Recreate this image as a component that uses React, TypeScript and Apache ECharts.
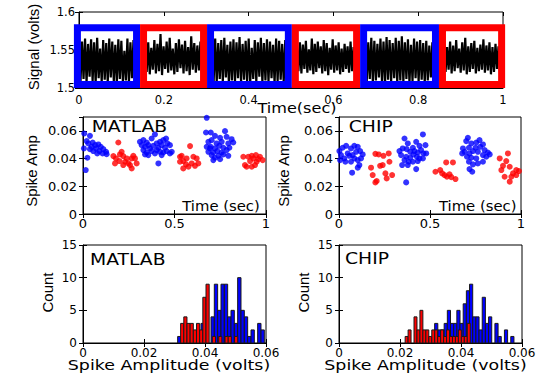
import React, { useEffect, useRef } from 'react';
import * as echarts from 'echarts';

// ---------- tick labels ----------
const signalTicksX = [0, 0.2, 0.4, 0.6, 0.8, 1];
const signalTicksY = [1.5, 1.55, 1.6];
const scatterTicksX = [0, 0.5, 1];
const scatterTicksY = [0, 0.02, 0.04, 0.06];
const scatterYMax = 0.07;
const histTicksX = [0, 0.02, 0.04, 0.06];
const histTicksY = [0, 5, 10, 15];

// ---------- top panel: segments & raw signal (volts) ----------
const segmentBounds = [-0.012, 0.144, 0.302, 0.502, 0.663, 0.849, 1.005];
const segmentTop = 1.584;
const segmentIsLarge = [true, false, true, false, true, false];

const signalSeg1 = [1.563,1.508,1.561,1.512,1.565,1.507,1.558,1.515,1.564,1.509,1.560,1.506,1.566,1.513,1.552,1.508,1.563,1.511,1.559,1.507,1.565,1.514,1.561,1.509,1.557,1.506,1.564,1.512,1.562,1.508,1.549,1.510,1.565,1.507,1.560,1.513,1.563,1.509];
const signalSeg2 = [1.556,1.521,1.560,1.518,1.553,1.524,1.563,1.519,1.558,1.522,1.571,1.517,1.555,1.525,1.561,1.520,1.566,1.523,1.552,1.518,1.559,1.521,1.564,1.526,1.557,1.519,1.562,1.522,1.554,1.517,1.568,1.524,1.559,1.520,1.556,1.523,1.561,1.519];
const signalSeg3 = [1.562,1.509,1.565,1.507,1.559,1.512,1.563,1.508,1.566,1.514,1.557,1.506,1.561,1.510,1.564,1.508,1.560,1.513,1.567,1.507,1.558,1.511,1.562,1.509,1.565,1.506,1.553,1.512,1.563,1.508,1.560,1.515,1.566,1.507,1.559,1.510,1.564,1.508,1.561,1.513,1.557,1.506,1.565,1.509,1.562,1.511,1.558,1.507,1.563,1.510];
const signalSeg4 = [1.554,1.522,1.560,1.519,1.557,1.525,1.562,1.520,1.551,1.523,1.565,1.518,1.558,1.521,1.561,1.526,1.555,1.519,1.563,1.522,1.559,1.517,1.553,1.524,1.564,1.520,1.556,1.523,1.560,1.518,1.552,1.521,1.558,1.525,1.555,1.520,1.561,1.522,1.554,1.519];
const signalSeg5 = [1.564,1.508,1.560,1.512,1.566,1.507,1.562,1.510,1.558,1.514,1.565,1.508,1.561,1.506,1.567,1.511,1.563,1.509,1.559,1.513,1.566,1.507,1.562,1.510,1.568,1.508,1.560,1.512,1.564,1.506,1.557,1.509,1.565,1.513,1.561,1.508,1.563,1.511,1.559,1.507,1.562,1.510,1.556,1.514,1.560,1.508];
const signalSeg6 = [1.558,1.521,1.554,1.524,1.561,1.519,1.556,1.522,1.563,1.526,1.552,1.520,1.560,1.523,1.566,1.518,1.555,1.521,1.559,1.525,1.562,1.519,1.553,1.522,1.557,1.524,1.564,1.520,1.556,1.523,1.560,1.518,1.554,1.521,1.558,1.525,1.555,1.520];
const signalSegments = [signalSeg1, signalSeg2, signalSeg3, signalSeg4, signalSeg5, signalSeg6];

// ---------- spike amplitudes vs time ----------
const matlabBlue = [
  [0.007,0.0581],[0.038,0.0564],[0.020,0.0526],[0.005,0.0473],[0.029,0.0509],[0.053,0.0516],[0.066,0.0497],[0.084,0.0502],[0.097,0.0485],[0.071,0.0473],[0.056,0.0454],[0.089,0.0454],[0.111,0.0468],[0.126,0.0449],[0.078,0.0437],[0.107,0.0437],[0.129,0.0432],[0.024,0.0406],[0.015,0.0317],[0.047,0.0485],[0.038,0.0468],
  [0.311,0.0521],[0.330,0.0533],[0.348,0.0516],[0.375,0.0545],[0.393,0.0574],[0.321,0.0497],[0.339,0.0485],[0.357,0.0497],[0.366,0.0473],[0.384,0.0492],[0.403,0.0509],[0.421,0.0521],[0.439,0.0533],[0.454,0.0545],[0.461,0.0509],[0.475,0.0497],[0.430,0.0497],[0.412,0.0478],[0.330,0.0461],[0.348,0.0444],[0.375,0.0454],[0.393,0.0437],[0.421,0.0449],[0.439,0.0444],[0.457,0.0454],[0.485,0.0449],[0.475,0.0437],[0.357,0.0425],[0.339,0.0430],[0.430,0.0425],[0.412,0.0365],[0.403,0.0461],[0.448,0.0478],
  [0.676,0.0694],[0.672,0.0588],[0.698,0.0588],[0.721,0.0564],[0.749,0.0550],[0.776,0.0598],[0.785,0.0557],[0.812,0.0540],[0.685,0.0521],[0.703,0.0533],[0.730,0.0509],[0.758,0.0521],[0.794,0.0509],[0.821,0.0516],[0.676,0.0485],[0.698,0.0485],[0.721,0.0473],[0.745,0.0492],[0.767,0.0478],[0.800,0.0478],[0.685,0.0449],[0.712,0.0444],[0.734,0.0454],[0.758,0.0444],[0.785,0.0461],[0.703,0.0425],[0.721,0.0406],[0.740,0.0420],[0.767,0.0430],[0.794,0.0420],[0.712,0.0389],[0.749,0.0396],[0.694,0.0473]
];
const matlabRed = [
  [0.193,0.0516],[0.166,0.0418],[0.180,0.0401],[0.202,0.0430],[0.211,0.0449],[0.220,0.0418],[0.239,0.0401],[0.199,0.0382],[0.175,0.0365],[0.230,0.0377],[0.248,0.0365],[0.266,0.0401],[0.275,0.0420],[0.284,0.0401],[0.257,0.0353],[0.220,0.0353],[0.266,0.0329],[0.293,0.0365],
  [0.585,0.0490],[0.530,0.0413],[0.548,0.0382],[0.566,0.0401],[0.603,0.0413],[0.621,0.0401],[0.563,0.0358],[0.594,0.0365],[0.630,0.0365],[0.612,0.0348],[0.548,0.0329],[0.576,0.0341],[0.530,0.0377],[0.539,0.0420],
  [0.876,0.0413],[0.903,0.0413],[0.922,0.0420],[0.945,0.0425],[0.967,0.0413],[0.885,0.0353],[0.913,0.0382],[0.931,0.0401],[0.958,0.0396],[0.982,0.0389],[0.940,0.0353],[0.922,0.0341],[0.894,0.0341],[0.949,0.0377]
];
const chipBlue = [
  [0.002,0.0454],[0.020,0.0478],[0.039,0.0492],[0.066,0.0473],[0.084,0.0492],[0.103,0.0485],[0.094,0.0449],[0.116,0.0454],[0.130,0.0430],[0.011,0.0425],[0.029,0.0401],[0.048,0.0437],[0.057,0.0420],[0.075,0.0425],[0.035,0.0377],[0.066,0.0377],[0.084,0.0401],[0.103,0.0389],[0.121,0.0401],[0.112,0.0353],[0.072,0.0298],[0.103,0.0334],[0.006,0.0389],
  [0.360,0.0545],[0.378,0.0509],[0.424,0.0521],[0.461,0.0574],[0.475,0.0497],[0.442,0.0492],[0.406,0.0478],[0.332,0.0454],[0.350,0.0473],[0.372,0.0468],[0.391,0.0449],[0.415,0.0454],[0.433,0.0444],[0.451,0.0461],[0.464,0.0437],[0.479,0.0437],[0.341,0.0425],[0.369,0.0413],[0.391,0.0406],[0.409,0.0430],[0.428,0.0413],[0.442,0.0401],[0.461,0.0401],[0.360,0.0389],[0.383,0.0377],[0.406,0.0377],[0.433,0.0382],[0.347,0.0353],[0.378,0.0353],[0.424,0.0324],[0.369,0.0228],
  [0.708,0.0550],[0.699,0.0526],[0.727,0.0509],[0.754,0.0516],[0.772,0.0533],[0.791,0.0502],[0.776,0.0485],[0.750,0.0478],[0.714,0.0478],[0.681,0.0473],[0.690,0.0449],[0.717,0.0437],[0.736,0.0454],[0.763,0.0449],[0.800,0.0461],[0.818,0.0444],[0.828,0.0430],[0.677,0.0437],[0.703,0.0413],[0.727,0.0406],[0.754,0.0401],[0.791,0.0425],[0.809,0.0413],[0.714,0.0377],[0.736,0.0358],[0.763,0.0365],[0.791,0.0377],[0.717,0.0324],[0.732,0.0305]
];
const chipRed = [
  [0.200,0.0434],[0.218,0.0430],[0.244,0.0420],[0.273,0.0437],[0.240,0.0353],[0.226,0.0348],[0.176,0.0334],[0.185,0.0281],[0.255,0.0293],[0.292,0.0281],[0.262,0.0257],[0.207,0.0238],[0.200,0.0228],[0.277,0.0377],
  [0.589,0.0372],[0.626,0.0372],[0.530,0.0305],[0.556,0.0317],[0.567,0.0293],[0.580,0.0281],[0.593,0.0269],[0.607,0.0286],[0.617,0.0266],[0.640,0.0252],
  [0.883,0.0401],[0.928,0.0437],[0.919,0.0382],[0.901,0.0348],[0.938,0.0341],[0.892,0.0317],[0.974,0.0317],[0.989,0.0310],[0.956,0.0293],[0.910,0.0269],[0.947,0.0269],[0.974,0.0281],[0.938,0.0233]
];

// ---------- histograms (first bin centre, bin width, counts) ----------
const matlabBlueHistStart = 0.03158;
const matlabBlueHistWidth = 0.001093;
const matlabBlueHistCounts = [1,0,0,0,0,0,0,3,0,0,4,9,5,9,9,4,5,3,10,5,4,1,2,0,3,2];
const matlabRedHistStart = 0.03253;
const matlabRedHistWidth = 0.00104;
const matlabRedHistCounts = [3,4,3,3,2,3,2,7,9,0,1,0,1,0,1,1,0,1];
const chipBlueHistStart = 0.03188;
const chipBlueHistWidth = 0.00104;
const chipBlueHistCounts = [3,2,2,3,5,3,3,5,3,6,8,9,4,4,2,7,3,4,0,3,1,0,2,0,1];
const chipRedHistStart = 0.02217;
const chipRedHistWidth = 0.00097;
const chipRedHistCounts = [1,2,0,4,2,5,2,2,1,2,2,1,2,1,2,1,1,1,2,1,1,3];

// ---------- styling ----------
const BLUE = '#0000ff';
const RED = '#ff0000';
const TICK_FONT = 'DejaVu Sans';
const SPACED_FONT = 'DejaVu Sans';
const LABEL_FONT = 'Liberation Sans';

const fmt = (v: number) => String(parseFloat(Number(v).toFixed(4)));

function axesFor(gi: number, xt: number[], yt: number[], o: any) {
  const xMin = xt[0], xMax = o.xMax ?? xt[xt.length - 1];
  const yMin = yt[0], yMax = o.yMax ?? yt[yt.length - 1];
  const xInt = parseFloat((xt[1] - xt[0]).toFixed(6));
  const yInt = parseFloat((yt[1] - yt[0]).toFixed(6));
  const tick = { show: true, inside: true, length: 4, lineStyle: { color: '#000', width: 1 } };
  const line = { show: true, onZero: false, lineStyle: { color: '#000', width: 1 } };
  const xs = [
    {
      type: 'value', gridIndex: gi, position: 'bottom', min: xMin, max: xMax, interval: xInt,
      axisLine: line, axisTick: tick, splitLine: { show: false },
      axisLabel: { color: '#000', fontFamily: TICK_FONT, fontSize: o.xFont, margin: o.xMargin, formatter: fmt },
    },
    {
      type: 'value', gridIndex: gi, position: 'top', min: xMin, max: xMax, interval: xInt,
      axisLine: { show: false }, axisTick: tick, splitLine: { show: false }, axisLabel: { show: false },
    },
  ];
  const ys = [
    {
      type: 'value', gridIndex: gi, position: 'left', min: yMin, max: yMax, interval: yInt,
      axisLine: line, axisTick: tick, splitLine: { show: false },
      axisLabel: { color: '#000', fontFamily: TICK_FONT, fontSize: o.yFont, margin: o.yMargin, formatter: fmt, showMaxLabel: o.yMax === undefined },
    },
    {
      type: 'value', gridIndex: gi, position: 'right', min: yMin, max: yMax, interval: yInt,
      axisLine: { show: false }, axisTick: tick, splitLine: { show: false }, axisLabel: { show: false },
    },
  ];
  return { xs, ys };
}

function histSeries(axisIdx: number, start: number, width: number, counts: number[], color: string) {
  return {
    type: 'custom',
    xAxisIndex: axisIdx, yAxisIndex: axisIdx,
    z: color === RED ? 4 : 3,
    data: counts.map((c, i) => [start + i * width, c]),
    encode: { x: 0, y: 1 },
    renderItem: (_p: any, api: any) => {
      const c = api.value(0), n = api.value(1);
      if (!n) return null;
      const p0 = api.coord([c - width / 2, n]);
      const p1 = api.coord([c + width / 2, 0]);
      return {
        type: 'rect',
        shape: { x: p0[0], y: p0[1], width: p1[0] - p0[0], height: p1[1] - p0[1] },
        style: { fill: color, stroke: '#1a1a1a', lineWidth: 1 },
      };
    },
  };
}

function txt(text: string, x: number, y: number, o: any = {}) {
  return {
    type: 'text', x, y, z: 100,
    rotation: o.rotation ?? 0,
    scaleX: o.scaleX ?? 1,
    style: {
      text, fill: '#000',
      fontFamily: o.family ?? SPACED_FONT, fontSize: o.size ?? 14,
      align: o.align ?? 'center', verticalAlign: 'middle',
      textAlign: o.align ?? 'center', textVerticalAlign: 'middle',
    },
  };
}

export default function App() {
  const ref = useRef<HTMLDivElement>(null);
  useEffect(() => {
    if (!ref.current) return;
    const chart = echarts.init(ref.current, undefined, { renderer: 'svg' });

    const grids = [
      { left: 79, top: 12, width: 424, height: 76 },
      { left: 83, top: 117, width: 183, height: 97 },
      { left: 339, top: 117, width: 182, height: 97 },
      { left: 83, top: 245, width: 183, height: 98 },
      { left: 339, top: 245, width: 183, height: 98 },
    ].map((g) => ({ ...g, show: true, borderColor: '#000', borderWidth: 1, containLabel: false }));

    const a0 = axesFor(0, signalTicksX, signalTicksY, { xFont: 11.5, yFont: 11.5, xMargin: 6, yMargin: 4 });
    const a1 = axesFor(1, scatterTicksX, scatterTicksY, { yMax: scatterYMax, xFont: 13, yFont: 13, xMargin: 3, yMargin: 6 });
    const a2 = axesFor(2, scatterTicksX, scatterTicksY, { yMax: scatterYMax, xFont: 13, yFont: 13, xMargin: 3, yMargin: 6 });
    const a3 = axesFor(3, histTicksX, histTicksY, { xFont: 12, yFont: 12, xMargin: 4, yMargin: 6 });
    const a4 = axesFor(4, histTicksX, histTicksY, { xFont: 12, yFont: 12, xMargin: 4, yMargin: 6 });
    const all = [a0, a1, a2, a3, a4];
    const xAxis = all.flatMap((a) => a.xs);
    const yAxis = all.flatMap((a) => a.ys);

    const signalSeries = signalSegments.map((seg, s) => {
      const t0 = segmentBounds[s] + 0.012;
      const t1 = segmentBounds[s + 1] - 0.012;
      return {
        type: 'line', xAxisIndex: 0, yAxisIndex: 0, symbol: 'none', silent: true, z: 2,
        lineStyle: { color: '#000', width: 2.2, join: 'bevel' },
        data: seg.map((v, k) => [t0 + ((t1 - t0) * k) / (seg.length - 1), v]),
      };
    });

    const boxSeries = {
      type: 'custom', xAxisIndex: 0, yAxisIndex: 0, clip: false, z: 5, silent: true,
      data: segmentIsLarge.map((big, i) => [segmentBounds[i], segmentBounds[i + 1], big ? 1 : 0]),
      encode: { x: [0, 1] },
      renderItem: (_p: any, api: any) => {
        const lw = 7;
        const p0 = api.coord([api.value(0), segmentTop]);
        const p1 = api.coord([api.value(1), signalTicksY[0]]);
        return {
          type: 'rect',
          shape: { x: p0[0] + lw / 2, y: p0[1] + lw / 2, width: p1[0] - p0[0] - lw, height: p1[1] - p0[1] - lw },
          style: { fill: 'none', stroke: api.value(2) ? BLUE : RED, lineWidth: lw },
        };
      },
    };

    const scatter = (idx: number, data: number[][], color: string) => ({
      type: 'scatter', xAxisIndex: idx, yAxisIndex: idx, data, symbol: 'circle', symbolSize: 6,
      itemStyle: { color }, z: 3,
    });

    const option: any = {
      animation: false,
      backgroundColor: '#fff',
      grid: grids,
      xAxis, yAxis,
      series: [
        ...signalSeries,
        boxSeries,
        scatter(2, matlabBlue, BLUE),
        scatter(2, matlabRed, RED),
        scatter(4, chipBlue, BLUE),
        scatter(4, chipRed, RED),
        histSeries(6, matlabBlueHistStart, matlabBlueHistWidth, matlabBlueHistCounts, BLUE),
        histSeries(6, matlabRedHistStart, matlabRedHistWidth, matlabRedHistCounts, RED),
        histSeries(8, chipBlueHistStart, chipBlueHistWidth, chipBlueHistCounts, BLUE),
        histSeries(8, chipRedHistStart, chipRedHistWidth, chipRedHistCounts, RED),
      ],
      graphic: [
        txt('Signal (volts)', 33, 47, { rotation: Math.PI / 2, family: LABEL_FONT, size: 15 }),
        txt('Time(sec)', 297, 108.5, { size: 14, scaleX: 1.15 }),
        txt('Spike Amp', 31.5, 171, { rotation: Math.PI / 2, family: LABEL_FONT, size: 15 }),
        txt('Spike Amp', 283, 171, { rotation: Math.PI / 2, family: LABEL_FONT, size: 15 }),
        txt('MATLAB', 91.7, 126.7, { align: 'left', size: 15, scaleX: 1.25 }),
        txt('CHIP', 348.7, 126.7, { align: 'left', size: 15, scaleX: 1.25 }),
        txt('Time (sec)', 221, 206, { size: 14, scaleX: 1.06 }),
        txt('Time (sec)', 477.7, 206, { size: 14, scaleX: 1.06 }),
        txt('Count', 47.5, 292.5, { rotation: Math.PI / 2, family: LABEL_FONT, size: 15 }),
        txt('Count', 303, 292.5, { rotation: Math.PI / 2, family: LABEL_FONT, size: 15 }),
        txt('MATLAB', 90, 259.7, { align: 'left', size: 15, scaleX: 1.25 }),
        txt('CHIP', 345, 258.5, { align: 'left', size: 15, scaleX: 1.25 }),
        txt('Spike Amplitude (volts)', 169, 365.5, { size: 14.5, scaleX: 1.2 }),
        txt('Spike Amplitude (volts)', 425.5, 365.5, { size: 14.5, scaleX: 1.2 }),
      ],
    };
    chart.setOption(option);
    return () => chart.dispose();
  }, []);
  return (
    <div
      ref={ref}
      style={{ position: 'absolute', left: 0, top: 0, width: 543, height: 377, background: '#fff' }}
    />
  );
}
